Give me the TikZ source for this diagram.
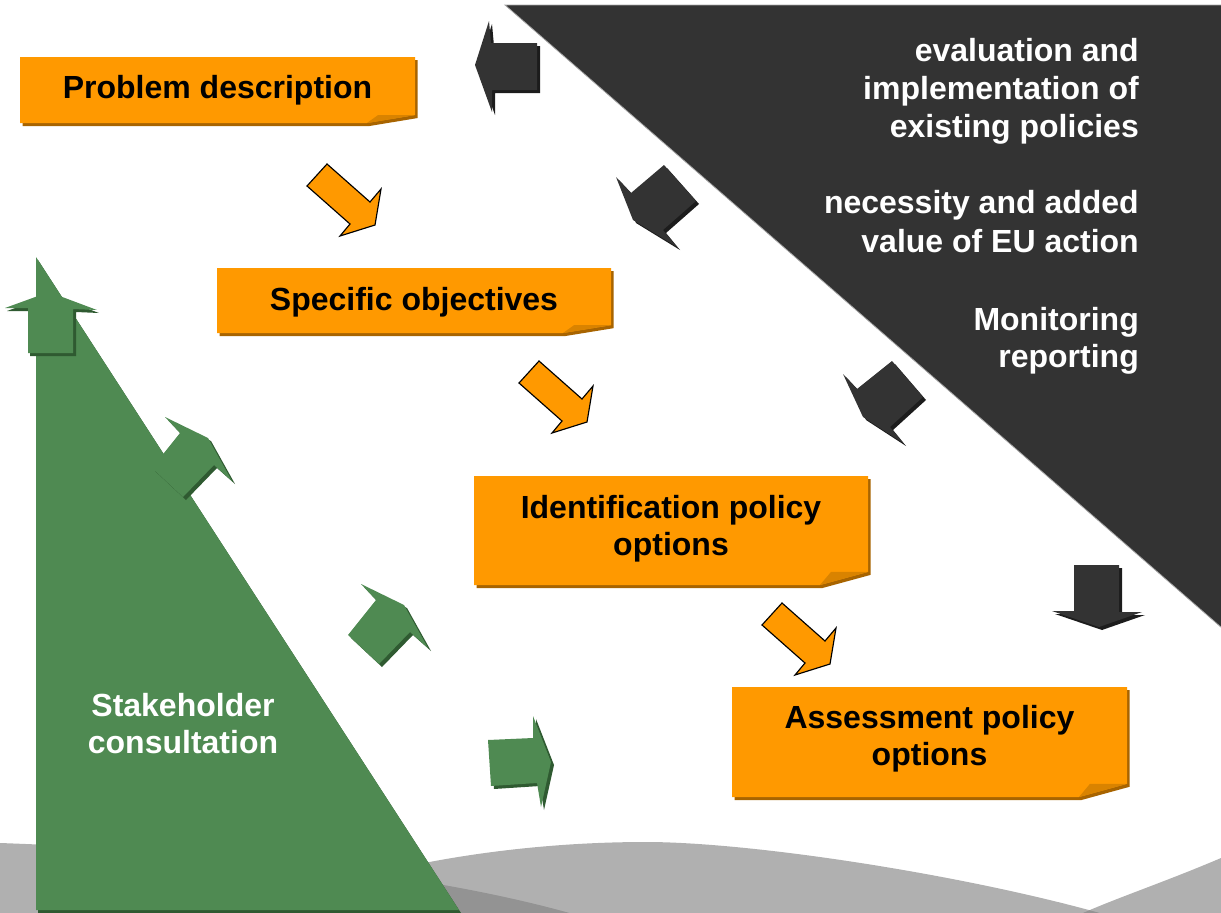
\documentclass[tikz,border=0pt]{standalone}
\usepackage{fontspec}
\setmainfont{Liberation Sans}
\definecolor{notefill}{HTML}{FF9900}
\definecolor{noteshade}{HTML}{A86400}
\definecolor{notecurlc}{HTML}{D98300}
\definecolor{darkgrey}{HTML}{333333}
\definecolor{darkshade}{HTML}{1C1C1C}
\definecolor{leafgreen}{HTML}{4F8A52}
\definecolor{leafshade}{HTML}{2F5A31}
\definecolor{hillgrey}{RGB}{130,130,130}

% sticky note: left, top, right, bottom (the lower right corner is curled)
\newcommand{\stickynote}[4]{%
  \pgfmathsetmacro\notecut{0.12*(#4-#2)}%
  \fill[noteshade] (#1+2.5,#2+3) -- (#3+2.5,#2+3) -- (#3+2.5,#4-\notecut+3)
    -- (#3-48+2.5,#4+3) -- (#1+2.5,#4+3) -- cycle;
  \fill[notefill] (#1,#2) -- (#3,#2) -- (#3,#4-\notecut) -- (#3-48,#4) -- (#1,#4) -- cycle;
  \fill[notecurlc] (#3-48,#4) -- (#3-37,#4-\notecut) -- (#3,#4-\notecut) -- cycle;
}

\begin{document}
\begin{tikzpicture}[x=1pt,y=-1pt,
  lbl/.style={font=\bfseries\fontsize{32}{38.4}\selectfont, inner sep=0pt, anchor=base},
  rlbl/.style={lbl, anchor=base east, text=white},
  hill/.style={fill=hillgrey, fill opacity=0.63},
  oarr/.style={fill=notefill, draw=black, line width=1.15pt, line join=miter},
  orangearrow/.pic={\draw[oarr] (0,0) -- (-20,22) -- (23,60) -- (13,72) -- (48,61) -- (54,25) -- (43,38) -- cycle;},
  greendiag/.pic={%
    \fill[leafshade] (168,420) -- (211,441) -- (235,484) -- (217,468) -- (186,500) -- (155,471) -- (183,436) -- cycle;
    \fill[leafgreen] (165,417) -- (208,438) -- (232,481) -- (214,465) -- (183,497) -- (152,468) -- (180,433) -- cycle;}
]
\useasboundingbox (0,0) rectangle (1221,913);
\clip (0,0) rectangle (1221,913);

% grey hills along the bottom
\fill[hill] (0,843) .. controls (250,852) and (450,878) .. (580,916) -- (0,916) -- cycle;
\fill[hill] (250,916) .. controls (350,870) and (500,842) .. (646,842)
  .. controls (760,842) and (1000,880) .. (1140,925) -- cycle;
\fill[hill] (1221,858) .. controls (1160,884) and (1110,900) .. (1072,918) -- (1221,918) -- cycle;

% dark wedge, top right
\fill[darkgrey, draw=gray!70, line width=0.8pt] (505,5) -- (1222,5) -- (1222,628) -- cycle;

% stakeholder wedge
\fill[leafshade] (38,260) -- (461,913) -- (38,913) -- cycle;
\fill[leafgreen] (36,257) -- (459,910) -- (36,910) -- cycle;

% green arrows out of the stakeholder wedge
\fill[leafshade] (30,356) -- (30,311) -- (7,311) -- (51,295) -- (99,313) -- (76,312) -- (76,356) -- cycle;
\fill[leafgreen] (28,353) -- (28,308) -- (5,308) -- (49,292) -- (97,310) -- (73,309) -- (73,353) -- cycle;
\pic at (0,0) {greendiag};
\pic at (196,167) {greendiag};
\fill[leafshade] (554,765) -- (536,719) -- (536,741) -- (491,743) -- (494,789) -- (540,786) -- (544,810) -- cycle;
\fill[leafgreen] (551,762) -- (533,716) -- (533,738) -- (488,740) -- (491,786) -- (537,783) -- (541,807) -- cycle;

% dark arrows out of the dark wedge
\fill[darkshade] (478,68) -- (492,24) -- (494,46) -- (540,46) -- (540,93) -- (495,93) -- (495,115) -- cycle;
\fill[darkgrey] (475,65) -- (489,21) -- (491,43) -- (537,43) -- (537,90) -- (492,90) -- (492,112) -- cycle;
\fill[darkshade] (636,223) -- (619,180) -- (634,196) -- (667,168) -- (699,204) -- (666,233) -- (680,250) -- cycle;
\fill[darkgrey] (633,220) -- (616,177) -- (631,193) -- (664,165) -- (696,201) -- (663,230) -- (677,247) -- cycle;
\fill[darkshade] (866,420) -- (846,377) -- (860,392) -- (895,364) -- (926,400) -- (893,430) -- (906,446) -- cycle;
\fill[darkgrey] (863,417) -- (843,374) -- (857,389) -- (892,361) -- (923,397) -- (890,427) -- (903,443) -- cycle;
\fill[darkshade] (1077,568) -- (1122,568) -- (1122,615) -- (1145,615) -- (1102,630) -- (1055,614) -- (1077,614) -- cycle;
\fill[darkgrey] (1074,565) -- (1119,565) -- (1119,612) -- (1142,612) -- (1099,627) -- (1052,611) -- (1074,611) -- cycle;

% the four steps
\stickynote{20}{57}{415}{123}
\stickynote{217}{268}{611}{333}
\stickynote{474}{476}{868}{585}
\stickynote{732}{687}{1127}{797}

% orange arrows between the steps
\pic at (327,164) {orangearrow};
\pic at (539,361) {orangearrow};
\pic at (782,603) {orangearrow};

% step labels
\node[lbl] (pd) at (217.5,98.5) {Problem description};
\node[lbl] (so) at (414,310) {Specific objectives};
\node[lbl] (ipa) at (671,518) {Identification policy};
\node[lbl] (ipb) at (671,555) {options};
\node[lbl] (apa) at (929.5,728) {Assessment policy};
\node[lbl] (apb) at (929.5,765) {options};

% stakeholder label
\node[lbl, text=white] (sca) at (183,716) {Stakeholder};
\node[lbl, text=white] (scb) at (183,753) {consultation};

% labels in the dark wedge
\node[rlbl] (eva) at (1139,61) {evaluation and};
\node[rlbl] (evb) at (1139,99) {implementation of};
\node[rlbl] (evc) at (1139,137) {existing policies};
\node[rlbl] (nea) at (1139,213) {necessity and added};
\node[rlbl] (neb) at (1139,252) {value of EU action};
\node[rlbl] (moa) at (1139,330) {Monitoring};
\node[rlbl] (mob) at (1139,367) {reporting};
\end{tikzpicture}
\end{document}
